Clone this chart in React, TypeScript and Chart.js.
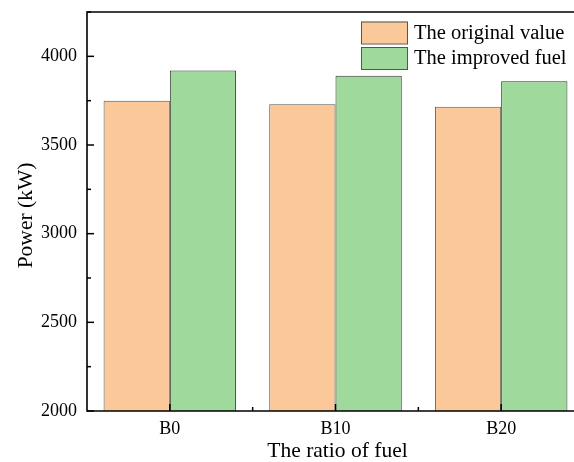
import React, { useEffect, useRef } from "react";
import { Chart, registerables } from "chart.js";

Chart.register(...registerables);

const categories = ["B0", "B10", "B20"];
const originalValues = [3750, 3730, 3715];
const improvedValues = [3920, 3890, 3860];
const seriesNames = ["The original value", "The improved fuel"];
const yTickValues = [2000, 2500, 3000, 3500, 4000];
const yMinorValues = [2250, 2750, 3250, 3750, 4250];
const yMin = 2000;
const yMax = 4250;
const xTitle = "The ratio of fuel";
const yTitle = "Power (kW)";

const ORANGE = "rgb(251,201,153)";
const GREEN = "rgb(159,217,155)";
const FONT = "'Liberation Serif', 'Times New Roman', serif";

const framePlugin = {
  id: "frameTicks",
  afterDraw(chart: any) {
    const { ctx, chartArea } = chart;
    const { left, right, top, bottom } = chartArea;
    const ys = chart.scales.y;
    const xs = chart.scales.x;
    ctx.save();
    ctx.strokeStyle = "#000";
    ctx.lineWidth = 1.6;
    ctx.beginPath();
    ctx.rect(left, top, right - left, bottom - top);
    ctx.stroke();
    // y ticks
    ctx.lineWidth = 1.5;
    ctx.fillStyle = "#000";
    ctx.font = `18px ${FONT}`;
    ctx.textAlign = "right";
    ctx.textBaseline = "middle";
    for (const v of yTickValues) {
      const p = ys.getPixelForValue(v);
      ctx.beginPath();
      ctx.moveTo(left, p);
      ctx.lineTo(left + 7, p);
      ctx.stroke();
      ctx.fillText(String(v), left - 10, p);
    }
    for (const v of yMinorValues) {
      const p = ys.getPixelForValue(v);
      ctx.beginPath();
      ctx.moveTo(left, p);
      ctx.lineTo(left + 4, p);
      ctx.stroke();
    }
    // x ticks
    ctx.textAlign = "center";
    for (let i = 0; i < categories.length; i++) {
      const p = xs.getPixelForValue(i);
      ctx.beginPath();
      ctx.moveTo(p, bottom);
      ctx.lineTo(p, bottom - 7);
      ctx.stroke();
      ctx.fillText(categories[i], p, bottom + 18);
      if (i < categories.length - 1) {
        const m = (p + xs.getPixelForValue(i + 1)) / 2;
        ctx.beginPath();
        ctx.moveTo(m, bottom);
        ctx.lineTo(m, bottom - 4);
        ctx.stroke();
      }
    }
    // axis titles
    ctx.font = `21.5px ${FONT}`;
    ctx.textAlign = "center";
    ctx.textBaseline = "alphabetic";
    ctx.fillText(xTitle, (left + right) / 2 + 2, 457);
    ctx.save();
    ctx.translate(26, (top + bottom) / 2 + 4);
    ctx.rotate(-Math.PI / 2);
    ctx.textBaseline = "middle";
    ctx.fillText(yTitle, 0, 0);
    ctx.restore();
    // legend
    const boxX = 361;
    const boxW = 46;
    const boxH = 22;
    const rowsY = [21.5, 47];
    const colors = [ORANGE, GREEN];
    ctx.font = `20.5px ${FONT}`;
    ctx.textBaseline = "middle";
    ctx.textAlign = "left";
    for (let i = 0; i < seriesNames.length; i++) {
      ctx.fillStyle = colors[i];
      ctx.fillRect(boxX, rowsY[i], boxW, boxH);
      ctx.strokeStyle = "#555";
      ctx.lineWidth = 1;
      ctx.strokeRect(boxX + 0.5, rowsY[i] + 0.5, boxW, boxH);
      ctx.fillStyle = "#000";
      ctx.fillText(seriesNames[i], boxX + boxW + 7, rowsY[i] + boxH / 2 + 1);
    }
    ctx.restore();
  },
};

export default function App() {
  const ref = useRef<HTMLCanvasElement>(null);
  useEffect(() => {
    if (!ref.current) return;
    const chart = new Chart(ref.current, {
      type: "bar",
      data: {
        labels: categories,
        datasets: [
          {
            label: seriesNames[0],
            data: originalValues,
            backgroundColor: ORANGE,
            borderColor: "#555",
            borderWidth: 1,
          },
          {
            label: seriesNames[1],
            data: improvedValues,
            backgroundColor: GREEN,
            borderColor: "#333",
            borderWidth: 1,
          },
        ],
      },
      options: {
        responsive: false,
        animation: false,
        layout: { padding: { left: 87, right: 16, top: 12, bottom: 51 } },
        plugins: { legend: { display: false }, tooltip: { enabled: false } },
        datasets: { bar: { barPercentage: 1, categoryPercentage: 0.8 } },
        scales: {
          x: { display: false },
          y: { display: false, min: yMin, max: yMax },
        },
      },
      plugins: [framePlugin],
    });
    return () => chart.destroy();
  }, []);
  return (
    <div
      style={{
        position: "fixed",
        left: 0,
        top: 0,
        width: 574,
        height: 462,
        overflow: "hidden",
        background: "#fff",
      }}
    >
      <canvas ref={ref} width={600} height={462} />
    </div>
  );
}
